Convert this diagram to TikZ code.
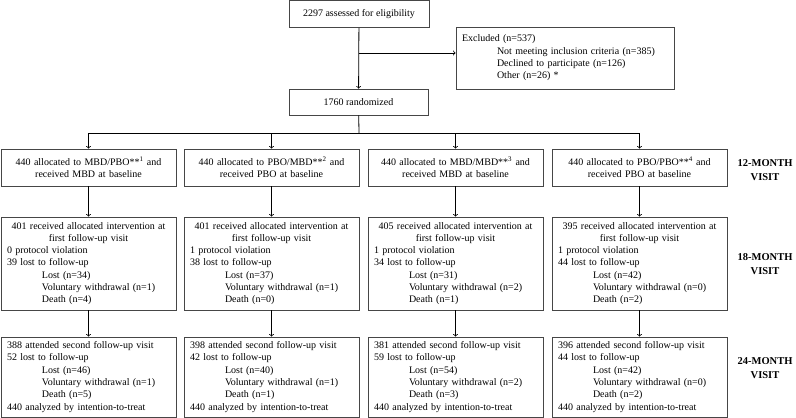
\documentclass[tikz,border=0pt]{standalone}
\usepackage{fontspec}
\setmainfont{Liberation Serif}
\setlength{\parindent}{0pt}
\definecolor{box_grey}{RGB}{70, 70, 70}
\newcommand{\subentry}{\hspace*{35pt}}
\tikzstyle{box}=[draw=box_grey,line width=0.8pt,inner xsep=6pt,inner ysep=1pt,
  font=\fontsize{10}{12.3}\selectfont]
\tikzstyle{armbox}=[box,minimum width=175pt,text width=163pt]
\tikzstyle{visit}=[align=center,font=\bfseries\fontsize{10.5}{14}\selectfont]
\tikzstyle{arrow}=[->,line width=0.8pt,draw=black]

\begin{document}
\begin{tikzpicture}[x=1pt, y=-1pt]
    \useasboundingbox (0, 0) rectangle (796, 418);
    \node [style=box, minimum width=140pt, minimum height=27pt] (0) at (359, 14) {2297 assessed for eligibility};
    \node [style=box, minimum width=218pt, minimum height=62pt, text width=206pt] (1) at (565, 58) {Excluded (n=537)\\
      \subentry Not meeting inclusion criteria (n=385)\\
      \subentry Declined to participate (n=126)\\
      \subentry Other (n=26) *};
    \node [style=box, minimum width=139pt, minimum height=26pt] (2) at (358.5, 102) {1760 randomized};
    \coordinate (3) at (359, 53);
    \coordinate (4) at (359, 133);
    \node [style=armbox, align=center, minimum height=37pt] (5) at (88.5, 167.5) {440 allocated to MBD/PBO**\textsuperscript{1} and\\received MBD at baseline};
    \node [style=armbox, align=center, minimum height=37pt] (6) at (271.5, 167.5) {440 allocated to PBO/MBD**\textsuperscript{2} and\\received PBO at baseline};
    \node [style=armbox, align=center, minimum height=37pt] (7) at (455.5, 167.5) {440 allocated to MBD/MBD**\textsuperscript{3} and\\received MBD at baseline};
    \node [style=armbox, align=center, minimum height=37pt] (8) at (639.5, 167.5) {440 allocated to PBO/PBO**\textsuperscript{4} and\\received PBO at baseline};
    \node [style=armbox, minimum height=93pt] (9) at (88.5, 263.5) {\centering 401 received allocated intervention at\\first follow-up visit\par
      \raggedright 0 protocol violation\\39 lost to follow-up\\
      \subentry Lost (n=34)\\\subentry Voluntary withdrawal (n=1)\\\subentry Death (n=4)};
    \node [style=armbox, minimum height=93pt] (10) at (271.5, 263.5) {\centering 401 received allocated intervention at\\first follow-up visit\par
      \raggedright 1 protocol violation\\38 lost to follow-up\\
      \subentry Lost (n=37)\\\subentry Voluntary withdrawal (n=1)\\\subentry Death (n=0)};
    \node [style=armbox, minimum height=93pt] (11) at (455.5, 263.5) {\centering 405 received allocated intervention at\\first follow-up visit\par
      \raggedright 1 protocol violation\\34 lost to follow-up\\
      \subentry Lost (n=31)\\\subentry Voluntary withdrawal (n=2)\\\subentry Death (n=1)};
    \node [style=armbox, minimum height=93pt] (12) at (639.5, 263.5) {\centering 395 received allocated intervention at\\first follow-up visit\par
      \raggedright 1 protocol violation\\44 lost to follow-up\\
      \subentry Lost (n=42)\\\subentry Voluntary withdrawal (n=0)\\\subentry Death (n=2)};
    \node [style=armbox, minimum height=80pt] (13) at (88.5, 377) {\raggedright 388 attended second follow-up visit\\52 lost to follow-up\\
      \subentry Lost (n=46)\\\subentry Voluntary withdrawal (n=1)\\\subentry Death (n=5)\\440 analyzed by intention-to-treat};
    \node [style=armbox, minimum height=80pt] (14) at (271.5, 377) {\raggedright 398 attended second follow-up visit\\42 lost to follow-up\\
      \subentry Lost (n=40)\\\subentry Voluntary withdrawal (n=1)\\\subentry Death (n=1)\\440 analyzed by intention-to-treat};
    \node [style=armbox, minimum height=80pt] (15) at (455.5, 377) {\raggedright 381 attended second follow-up visit\\59 lost to follow-up\\
      \subentry Lost (n=54)\\\subentry Voluntary withdrawal (n=2)\\\subentry Death (n=3)\\440 analyzed by intention-to-treat};
    \node [style=armbox, minimum height=80pt] (16) at (639.5, 377) {\raggedright 396 attended second follow-up visit\\44 lost to follow-up\\
      \subentry Lost (n=42)\\\subentry Voluntary withdrawal (n=0)\\\subentry Death (n=2)\\440 analyzed by intention-to-treat};
    \node [style=visit] (17) at (765, 170) {12-MONTH\\VISIT};
    \node [style=visit] (18) at (765, 264) {18-MONTH\\VISIT};
    \node [style=visit] (19) at (765, 368) {24-MONTH\\VISIT};
    \draw [style=arrow] (0) to (2);
    \draw [style=arrow] (3) to (3 -| 1.west);
    \draw [line width=0.8pt] (2) to (4);
    \draw [style=arrow] (4) -| (5);
    \draw [style=arrow] (4) -| (6);
    \draw [style=arrow] (4) -| (7);
    \draw [style=arrow] (4) -| (8);
    \draw [style=arrow] (5) to (9);
    \draw [style=arrow] (6) to (10);
    \draw [style=arrow] (7) to (11);
    \draw [style=arrow] (8) to (12);
    \draw [style=arrow] (9) to (13);
    \draw [style=arrow] (10) to (14);
    \draw [style=arrow] (11) to (15);
    \draw [style=arrow] (12) to (16);
\end{tikzpicture}
\end{document}
